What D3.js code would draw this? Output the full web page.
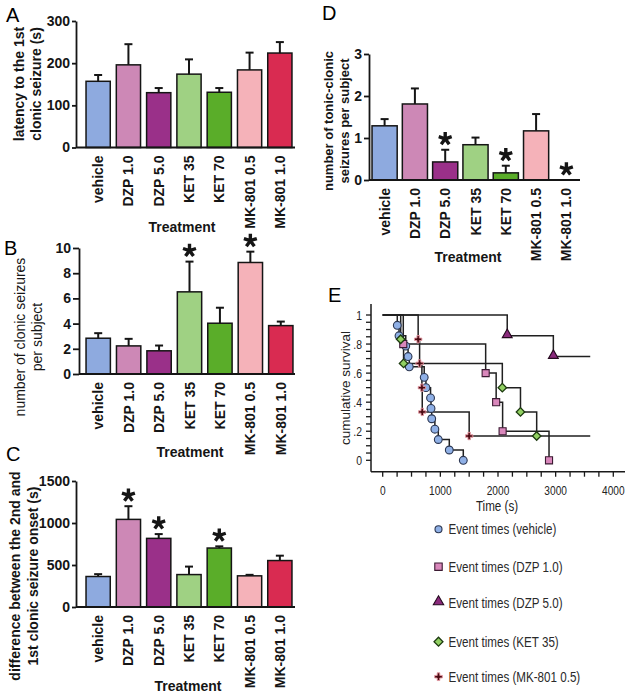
<!DOCTYPE html>
<html><head><meta charset="utf-8">
<script src="https://cdn.jsdelivr.net/npm/d3@7"></script>
<style>
html,body{margin:0;padding:0;background:#fff;}
text{font-family:"Liberation Sans",Arial,sans-serif;}
</style></head>
<body>
<script>
// ---------- DATA ----------
const categories = ["vehicle","DZP 1.0","DZP 5.0","KET 35","KET 70","MK-801 0.5","MK-801 1.0"];
const barColors  = ["#8eaadf","#cd88b6","#9a3089","#9fd183","#5aad29","#f5b2b9","#d92b51"];

// A: latency to the 1st clonic seizure (s)
const latencyMean = [157,196,130,174,131,184,224];
const latencySem  = [15,49,11,35,10,41,26];
const latencyTicks = [0,100,200,300];

// B: number of clonic seizures per subject
const clonicMean = [2.84,2.23,1.84,6.52,4.03,8.85,3.84];
const clonicSem  = [0.40,0.56,0.42,2.40,1.23,0.86,0.32];
const clonicStar = [0,0,0,1,0,1,0];
const clonicTicks = [0,2,4,6,8,10];

// C: difference between 2nd and 1st clonic seizure onset (s)
const diffMean = [363,1043,817,386,702,371,553];
const diffSem  = [28,157,51,95,20,12,58];
const diffStar = [0,1,1,0,1,0,0];
const diffTicks = [0,500,1000,1500];

// D: number of tonic-clonic seizures per subject
const tonicMean = [1.29,1.81,0.43,0.84,0.17,1.17,0];
const tonicSem  = [0.16,0.37,0.29,0.17,0.17,0.40,0];
const tonicStar = [0,0,1,0,1,0,1];
const tonicTicks = [0,1,2,3];

// E: Kaplan-Meier event times (s) and cumulative survival
const survGroups = ["vehicle","DZP 1.0","DZP 5.0","KET 35","MK-801 0.5"];
const vehicleTimes = [253,283,400,440,461,720,750,830,838,850,905,964,1155,1398];
const vehicleSurv  = [0.929,0.857,0.786,0.714,0.643,0.571,0.5,0.429,0.357,0.286,0.214,0.143,0.071,0];
const dzp1Times = [357,1786,1968,2080,2885];
const dzp1Surv  = [0.8,0.6,0.4,0.2,0];
const dzp5Times = [2160,2960];
const dzp5Surv  = [0.857,0.714];
const ket35Times = [312,362,2075,2390,2671];
const ket35Surv  = [0.833,0.667,0.5,0.333,0.167];
const mkTimes = [615,640,680,686,1500];
const mkSurv  = [0.833,0.667,0.5,0.333,0.167];
const survEnd = [1398,2885,3600,2671,3600];
const timeTicks = [0,1000,2000,3000,4000];
const timeMinor = [0,250,500,750,1000,1250,1500,1750,2000,2250,2500,2750,3000,3250,3500,3750,4000];
const survTicks = [0,0.2,0.4,0.6,0.8,1];
const survTickLabels = ["0",".2",".4",".6",".8","1"];
const survMinor = [0,0.05,0.1,0.15,0.2,0.25,0.3,0.35,0.4,0.45,0.5,0.55,0.6,0.65,0.7,0.75,0.8,0.85,0.9,0.95,1];
const legendLabels = ["Event times (vehicle)","Event times (DZP 1.0)","Event times (DZP 5.0)","Event times (KET 35)","Event times (MK-801 0.5)"];

// ---------- DRAW ----------
const W = 632, H = 698;
const svg = d3.select("body").append("svg").attr("width",W).attr("height",H);
const ink = "#151515";

function starPath(g, cx, cy){
  const L = 6.8, angles=[-90,-18,54,126,198];
  let d="";
  angles.forEach(a=>{const r=a*Math.PI/180; d+=`M${cx},${cy}L${cx+L*Math.cos(r)},${cy+L*Math.sin(r)}`;});
  g.append("path").attr("d",d).attr("stroke",ink).attr("stroke-width",3.4).attr("fill","none");
}

function barPanel(cfg, mean, sem, star, ticks, ylabel){
  const g = svg.append("g");
  const x = d3.scaleBand().domain(categories).range([cfg.x0,cfg.x1]).paddingInner(cfg.pi).paddingOuter(0.1);
  const y = d3.scaleLinear().domain([0,ticks[ticks.length-1]]).range([cfg.yb,cfg.yt]);
  // bars
  g.selectAll("rect.bar").data(categories).join("rect")
    .attr("x",d=>x(d)).attr("width",x.bandwidth())
    .attr("y",(d,i)=>y(mean[i])).attr("height",(d,i)=>cfg.yb-y(mean[i]))
    .attr("fill",(d,i)=>barColors[i]).attr("stroke",ink).attr("stroke-width",1.5);
  // error bars
  categories.forEach((c,i)=>{
    if(sem[i]<=0) return;
    const cx = x(c)+x.bandwidth()/2, top=y(mean[i]+sem[i]);
    g.append("line").attr("x1",cx).attr("x2",cx).attr("y1",y(mean[i])).attr("y2",top).attr("stroke",ink).attr("stroke-width",2);
    g.append("line").attr("x1",cx-4).attr("x2",cx+4).attr("y1",top).attr("y2",top).attr("stroke",ink).attr("stroke-width",2);
  });
  // stars
  if(star) categories.forEach((c,i)=>{
    if(!star[i]) return;
    starPath(g, x(c)+x.bandwidth()/2, y(mean[i]+sem[i]) - 11);
  });
  // y axis
  const ya = g.append("g").attr("transform",`translate(${cfg.ax},0)`)
    .call(d3.axisLeft(y).tickValues(ticks).tickFormat(d3.format("d")).tickSize(cfg.ts).tickSizeOuter(0).tickPadding(cfg.tp));
  ya.select(".domain").attr("stroke",ink).attr("stroke-width",1.8);
  ya.selectAll(".tick line").attr("stroke",ink).attr("stroke-width",1.8);
  ya.selectAll(".tick text").attr("font-size",14).attr("font-weight","bold").attr("fill",ink)
    .attr("font-family","'Liberation Sans',Arial,sans-serif");
  // x axis line
  g.append("line").attr("x1",cfg.ax).attr("x2",cfg.xe).attr("y1",cfg.yb).attr("y2",cfg.yb)
    .attr("stroke",ink).attr("stroke-width",1.8);
  // category labels
  g.selectAll("text.cat").data(categories).join("text").attr("class","cat")
    .attr("transform",d=>`translate(${x(d)+x.bandwidth()/2},${cfg.yb+8}) rotate(-90)`)
    .attr("text-anchor","end").attr("dominant-baseline","central")
    .attr("font-size",14).attr("font-weight","bold").attr("fill",ink).text(d=>d);
  // Treatment
  g.append("text").attr("x",cfg.tx).attr("y",cfg.ty).attr("text-anchor","middle")
    .attr("font-size",14).attr("font-weight","bold").attr("fill",ink).text("Treatment");
  // y label
  ylabel.lines.forEach((t,k)=>{
    g.append("text").attr("transform",`translate(${ylabel.xs[k]},${ylabel.cy}) rotate(-90)`)
      .attr("text-anchor","middle").attr("dominant-baseline","central")
      .attr("font-size",ylabel.fs).attr("font-weight",ylabel.fw).attr("fill",ink).text(t);
  });
  // panel letter
  g.append("text").attr("x",cfg.lx).attr("y",cfg.ly).attr("font-size",20).attr("fill","#000").text(cfg.letter);
}

barPanel({x0:83,x1:295,pi:0.2,ax:76,xe:295,yb:147.5,yt:21,ts:4,tp:2,tx:182,ty:232,lx:6,ly:22,letter:"A"},
  latencyMean,latencySem,null,latencyTicks,
  {lines:["latency to the 1st","clonic seizure (s)"],xs:[19,36],cy:84,fs:14,fw:"bold"});
barPanel({x0:83,x1:296,pi:0.2,ax:79,xe:295,yb:374,yt:248,ts:6,tp:2,tx:190,ty:457,lx:4,ly:255,letter:"B"},
  clonicMean,clonicSem,clonicStar,clonicTicks,
  {lines:["number of clonic seizures","per subject"],xs:[20,37],cy:337,fs:14,fw:"normal"});
barPanel({x0:83,x1:295,pi:0.2,ax:76,xe:295,yb:607,yt:481,ts:4,tp:2,tx:188,ty:691,lx:6,ly:461,letter:"C"},
  diffMean,diffSem,diffStar,diffTicks,
  {lines:["difference between the 2nd and","1st clonic seizure onset (s)"],xs:[15,33],cy:576,fs:14,fw:"bold"});
barPanel({x0:369,x1:582,pi:0.17,ax:369,xe:580,yb:180,yt:54,ts:5,tp:2,tx:468,ty:262,lx:322,ly:20,letter:"D"},
  tonicMean,tonicSem,tonicStar,tonicTicks,
  {lines:["number of tonic-clonic","seizures per subject"],xs:[328,344],cy:121,fs:13,fw:"bold"});

// ---------- PANEL E ----------
function squeeze(sel,f){ sel.each(function(){ const w=this.getComputedTextLength(); this.setAttribute("textLength",w*f); this.setAttribute("lengthAdjust","spacingAndGlyphs"); }); }
const gE = svg.append("g");
const xs = d3.scaleLinear().domain([0,4000]).range([382.7,613.3]);
const ys = d3.scaleLinear().domain([0,1]).range([460.3,315]);
const axY = 471.7, axX = 371;
const eInk = "#1a1a1a";
// axes
gE.append("line").attr("x1",axX).attr("x2",625).attr("y1",axY).attr("y2",axY).attr("stroke",eInk).attr("stroke-width",1.5);
gE.append("line").attr("x1",axX).attr("x2",axX).attr("y1",304).attr("y2",axY).attr("stroke",eInk).attr("stroke-width",1.5);
gE.selectAll("line.xt").data(timeMinor).join("line").attr("x1",d=>xs(d)).attr("x2",d=>xs(d))
  .attr("y1",axY).attr("y2",axY+5).attr("stroke",eInk).attr("stroke-width",1.3);
gE.selectAll("line.yt").data(survMinor).join("line").attr("y1",d=>ys(d)).attr("y2",d=>ys(d))
  .attr("x1",axX-5).attr("x2",axX).attr("stroke",eInk).attr("stroke-width",1.3);
const xl = gE.selectAll("text.xl").data(timeTicks).join("text").attr("x",d=>xs(d)).attr("y",495)
  .attr("text-anchor","middle").attr("font-size",13).attr("fill","#222").text(d=>d);
squeeze(xl,0.78);
const yl = gE.selectAll("text.yl").data(survTicks).join("text").attr("x",axX-9).attr("y",d=>ys(d)+4.5)
  .attr("text-anchor","end").attr("font-size",13).attr("fill","#222").text((d,i)=>survTickLabels[i]);
squeeze(yl,0.8);
const xTitle = gE.append("text").attr("x",497).attr("y",511).attr("text-anchor","middle").attr("font-size",14).attr("fill","#222").text("Time (s)");
squeeze(xTitle,0.83);
gE.append("text").attr("transform","translate(345,388) rotate(-90)").attr("text-anchor","middle")
  .attr("dominant-baseline","central").attr("font-size",13.5).attr("fill","#222").text("cumulative survival");
gE.append("text").attr("x",328).attr("y",302).attr("font-size",20).attr("fill","#000").text("E");

const groupTimes = [vehicleTimes,dzp1Times,dzp5Times,ket35Times,mkTimes];
const groupSurv  = [vehicleSurv,dzp1Surv,dzp5Surv,ket35Surv,mkSurv];
const stepLine = d3.line().x(d=>xs(d[0])).y(d=>ys(d[1])).curve(d3.curveStepAfter);
groupTimes.forEach((ts,gi)=>{
  const pts=[[0,1]];
  ts.forEach((t,i)=>pts.push([t,groupSurv[gi][i]]));
  const last = groupSurv[gi][groupSurv[gi].length-1];
  if(survEnd[gi]>ts[ts.length-1]) pts.push([survEnd[gi],last]);
  gE.append("path").attr("d",stepLine(pts)).attr("fill","none").attr("stroke","#202020").attr("stroke-width",1.5);
});

const markerStyle = [
  {type:"circle", fill:"#8fb0e6", stroke:"#2b3650"},
  {type:"square", fill:"#d987bb", stroke:"#3b1a32"},
  {type:"triangle", fill:"#8a2a7c", stroke:"#24091e"},
  {type:"diamond", fill:"#91d062", stroke:"#1d3a10"},
  {type:"cross", fill:"#4a0a12", stroke:"#e79aa4"}
];
function marker(g, gi, cx, cy, scale){
  const m = markerStyle[gi]; const s = scale||1;
  if(m.type==="circle"){
    g.append("circle").attr("cx",cx).attr("cy",cy).attr("r",3.9*s).attr("fill",m.fill).attr("stroke",m.stroke).attr("stroke-width",1.1);
  } else if(m.type==="square"){
    g.append("path").attr("d",d3.symbol(d3.symbolSquare, 50*s*s)()).attr("transform",`translate(${cx},${cy})`)
      .attr("fill",m.fill).attr("stroke",m.stroke).attr("stroke-width",1.1);
  } else if(m.type==="triangle"){
    g.append("path").attr("d",d3.symbol(d3.symbolTriangle, 42*s*s)()).attr("transform",`translate(${cx},${cy-1})`)
      .attr("fill",m.fill).attr("stroke",m.stroke).attr("stroke-width",1.1);
  } else if(m.type==="diamond"){
    g.append("path").attr("d",d3.symbol(d3.symbolSquare, 36*s*s)()).attr("transform",`translate(${cx},${cy}) rotate(45)`)
      .attr("fill",m.fill).attr("stroke",m.stroke).attr("stroke-width",1.3);
  } else {
    g.append("path").attr("d",d3.symbol(d3.symbolCross, 30*s*s)()).attr("transform",`translate(${cx},${cy})`)
      .attr("fill",m.fill).attr("stroke",m.stroke).attr("stroke-width",0.9);
  }
}
groupTimes.forEach((ts,gi)=>{
  ts.forEach((t,i)=>marker(gE,gi,xs(t),ys(groupSurv[gi][i])));
});

// legend
const legY = [529.3,566.7,602.7,641.7,676.7];
legendLabels.forEach((lab,i)=>{
  marker(gE,i,438.5,legY[i],i===0?0.9:1.05);
  const t = gE.append("text").attr("x",448.5).attr("y",legY[i]+5).attr("font-size",14).attr("fill","#2a2a2a").text(lab);
  squeeze(t,0.83);
});
</script>
</body></html>
